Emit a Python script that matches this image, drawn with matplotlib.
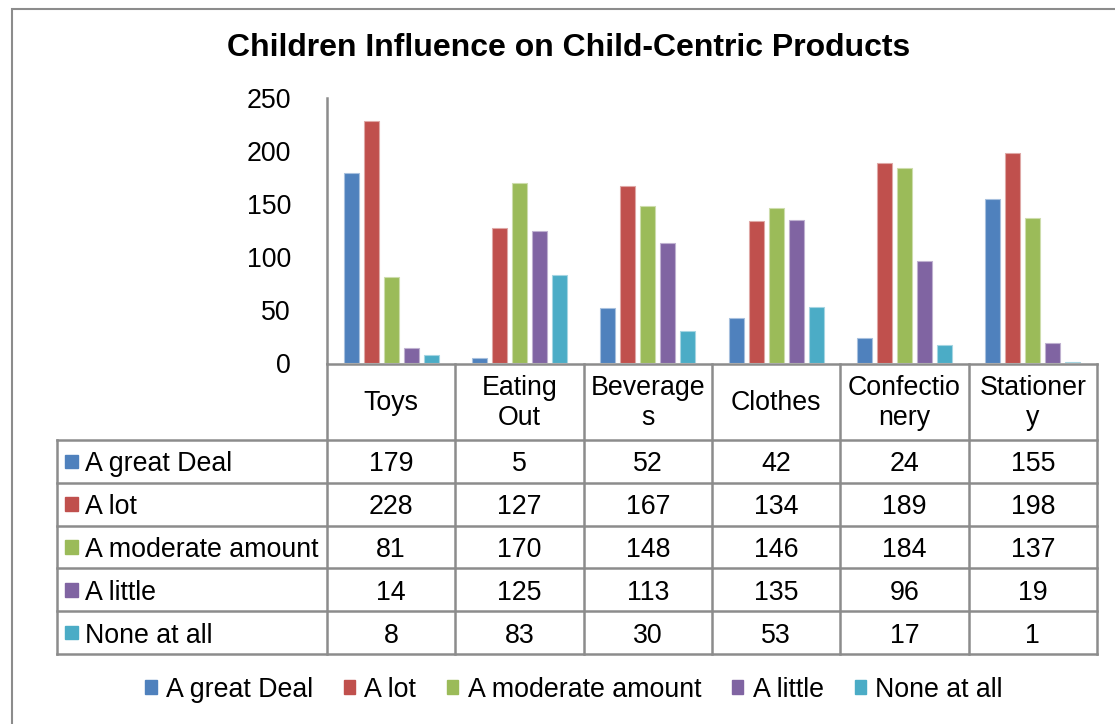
import matplotlib
matplotlib.use("Agg")
import matplotlib.pyplot as plt
from matplotlib.patches import Rectangle, Patch

plt.rcParams["font.family"] = ["Liberation Sans", "DejaVu Sans"]

# data
categories = ["Toys", "Eating\nOut", "Beverage\ns", "Clothes", "Confectio\nnery", "Stationer\ny"]
series = ["A great Deal", "A lot", "A moderate amount", "A little", "None at all"]
great_deal = [179, 5, 52, 42, 24, 155]
a_lot = [228, 127, 167, 134, 189, 198]
moderate = [81, 170, 148, 146, 184, 137]
a_little = [14, 125, 113, 135, 96, 19]
none_at_all = [8, 83, 30, 53, 17, 1]
values = [great_deal, a_lot, moderate, a_little, none_at_all]
colors = ["#4F81BD", "#C0504D", "#9BBB59", "#8064A2", "#4BACC6"]
edges = ["#A7C0DE", "#DFA8A6", "#CDDDAC", "#BFB1D0", "#A5D5E2"]
yticks = [0, 50, 100, 150, 200, 250]

W, H = 1115, 724
GRID = "#8C8C8C"
FS = 19.3


def fig_rect(x0, y0, x1, y1):
    return [x0 / W, 1 - y1 / H, (x1 - x0) / W, (y1 - y0) / H]


fig = plt.figure(figsize=(W / 100, H / 100), dpi=100)

# outer chart border
fig.add_artist(Rectangle((12 / W, -0.1), 1.2, 1 - 9 / H + 0.1, transform=fig.transFigure,
                         fill=False, edgecolor=GRID, lw=1.5))

fig.text(569 / W, 1 - 48 / H, "Children Influence on Child-Centric Products",
         ha="center", va="center", fontsize=23, fontweight="bold")

# bars
ax = fig.add_axes(fig_rect(327, 98, 1097, 363))
n = len(categories)
pitch, width = 0.156, 0.117
for k, (vals, c, e) in enumerate(zip(values, colors, edges)):
    xs = [i + 0.5 + (k - 2) * pitch for i in range(n)]
    ax.bar(xs, vals, width=width, color=c, edgecolor=e, linewidth=0.8, label=series[k])
ax.set_xlim(0, n)
ax.set_ylim(0, 250)
ax.set_yticks(yticks)
ax.set_yticklabels([str(t) for t in yticks], fontsize=FS)
ax.tick_params(axis="y", length=0, pad=26)
ax.set_xticks([])
for s in ["top", "right", "bottom"]:
    ax.spines[s].set_visible(False)
ax.spines["left"].set_color(GRID)
ax.spines["left"].set_linewidth(1.8)

# data table
label_w = 270 / 128.33
head_h = 76 / 42.8
axt = fig.add_axes(fig_rect(57, 364, 1097, 654))
axt.set_xlim(-label_w, n)
axt.set_ylim(len(series), -head_h)
axt.axis("off")
lw = 1.8
# horizontal lines
axt.plot([0, n], [-head_h, -head_h], color=GRID, lw=lw, clip_on=False)
for r in range(len(series) + 1):
    axt.plot([-label_w, n], [r, r], color=GRID, lw=lw, clip_on=False)
# vertical lines
axt.plot([-label_w, -label_w], [0, len(series)], color=GRID, lw=lw, clip_on=False)
for i in range(n + 1):
    axt.plot([i, i], [-head_h, len(series)], color=GRID, lw=lw, clip_on=False)

for i, cat in enumerate(categories):
    axt.text(i + 0.5, -head_h / 2 + 0.03, cat, ha="center", va="center", fontsize=FS,
             linespacing=1.22)
for r, (name, vals, c) in enumerate(zip(series, values, colors)):
    axt.add_patch(Rectangle((-label_w + 8 / 128.33, r + 0.5 - 0.16), 13 / 128.33, 0.32,
                            color=c, clip_on=False))
    axt.text(-label_w + 28 / 128.33, r + 0.5, name, ha="left", va="center_baseline",
             fontsize=FS)
    for i, v in enumerate(vals):
        axt.text(i + 0.5, r + 0.5, str(v), ha="center", va="center_baseline", fontsize=FS)

# legend
handles = [Patch(color=c) for c in colors]
fig.legend(handles, series, loc="center", bbox_to_anchor=(574 / W, 1 - 690 / H), ncol=5,
           frameon=False, fontsize=FS, handlelength=0.42, handleheight=0.42,
           handletextpad=0.35, columnspacing=1.15, borderaxespad=0)

fig.savefig("out.png", dpi=100)
